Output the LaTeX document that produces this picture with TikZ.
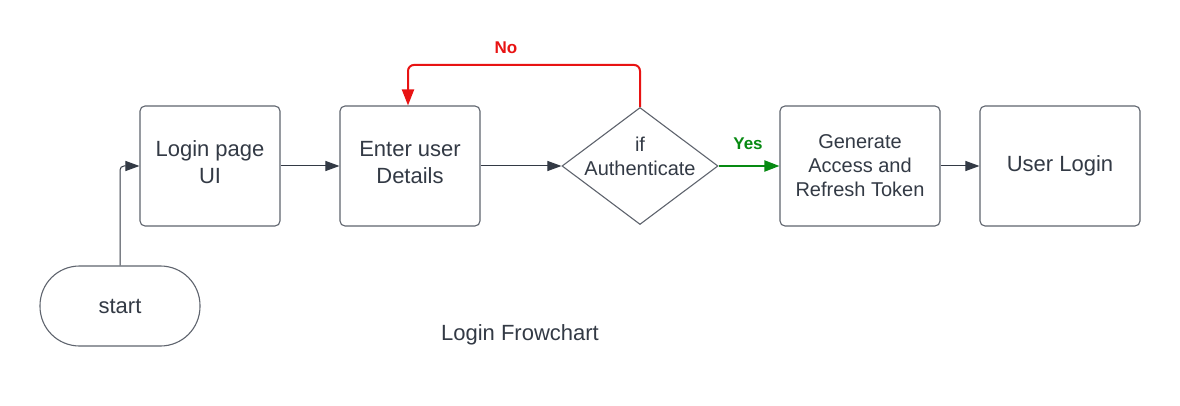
\documentclass[tikz,border=0pt]{standalone}
\usepackage{fontspec}
\setmainfont{Liberation Sans}
\usetikzlibrary{arrows.meta,shapes.geometric}
\definecolor{ink}{HTML}{333A45}
\definecolor{edge}{HTML}{5F646E}
\definecolor{nored}{HTML}{E81313}
\definecolor{yesgreen}{HTML}{078A12}
\newcommand\liftup[2]{\raisebox{#1}[\height][\depth]{\begin{tabular}{@{}c@{}}#2\end{tabular}}}
\begin{document}
\begin{tikzpicture}[x=1pt,y=-1pt,
  stepbox/.style={draw=edge, line width=1.1pt, rounded corners=5pt, minimum width=140pt, minimum height=120pt, align=center, inner sep=0pt, text=ink, font=\fontsize{22}{27}\selectfont},
  widebox/.style={stepbox, minimum width=160pt},
  conn/.style={draw=ink, line width=1pt, -{Triangle[length=14pt,width=10pt]}},
  lbl/.style={font=\fontsize{17}{20}\selectfont\bfseries, inner sep=0pt}
]
\useasboundingbox (0,0) rectangle (1180,406);
\fill[white] (0,0) rectangle (1180,406);

\node[stepbox] (login) at (210,166) {\liftup{1.5pt}{Login page\\UI}};
\node[stepbox] (enter) at (410,166) {\liftup{1.5pt}{Enter user\\Details}};
\node[draw=edge, line width=1.1pt, diamond, aspect=1.333, minimum width=156pt, minimum height=117pt, inner sep=0pt] (dia) at (640,166) {};
\node[align=center, text=ink, font=\fontsize{20}{24}\selectfont, inner sep=0pt] (diatext) at (640,156) {if\\Authenticate};
\node[widebox, font=\fontsize{20}{24}\selectfont] (gen) at (860,166) {Generate\\Access and\\Refresh Token};
\node[widebox] (user) at (1060,166) {User Login};
\node[stepbox, minimum width=160pt, minimum height=80pt, rounded corners=39.5pt] (start) at (120,306) {start};
\node[text=ink, font=\fontsize{22}{26}\selectfont, inner sep=0pt] (title) at (520,335) {Login Frowchart};

\draw[conn, rounded corners=4pt] (start.north) |- (login.west);
\draw[conn] (login.east) -- (enter.west);
\draw[conn] (enter.east) -- (dia.west);
\draw[conn] (gen.east) -- (user.west);
\draw[conn, draw=yesgreen, line width=2pt, -{Triangle[length=15pt,width=11pt]}, yesgreen] (dia.east) -- (gen.west);
\draw[conn, draw=nored, line width=2pt, -{Triangle[length=16pt,width=12pt]}, nored, rounded corners=6pt] (dia.north) -- ++(0,-42) -| ([xshift=-2pt]enter.north);
\node[lbl, text=nored] (nolbl) at (506,48) {No};
\node[lbl, text=yesgreen] (yeslbl) at (748,144) {Yes};
\end{tikzpicture}
\end{document}
